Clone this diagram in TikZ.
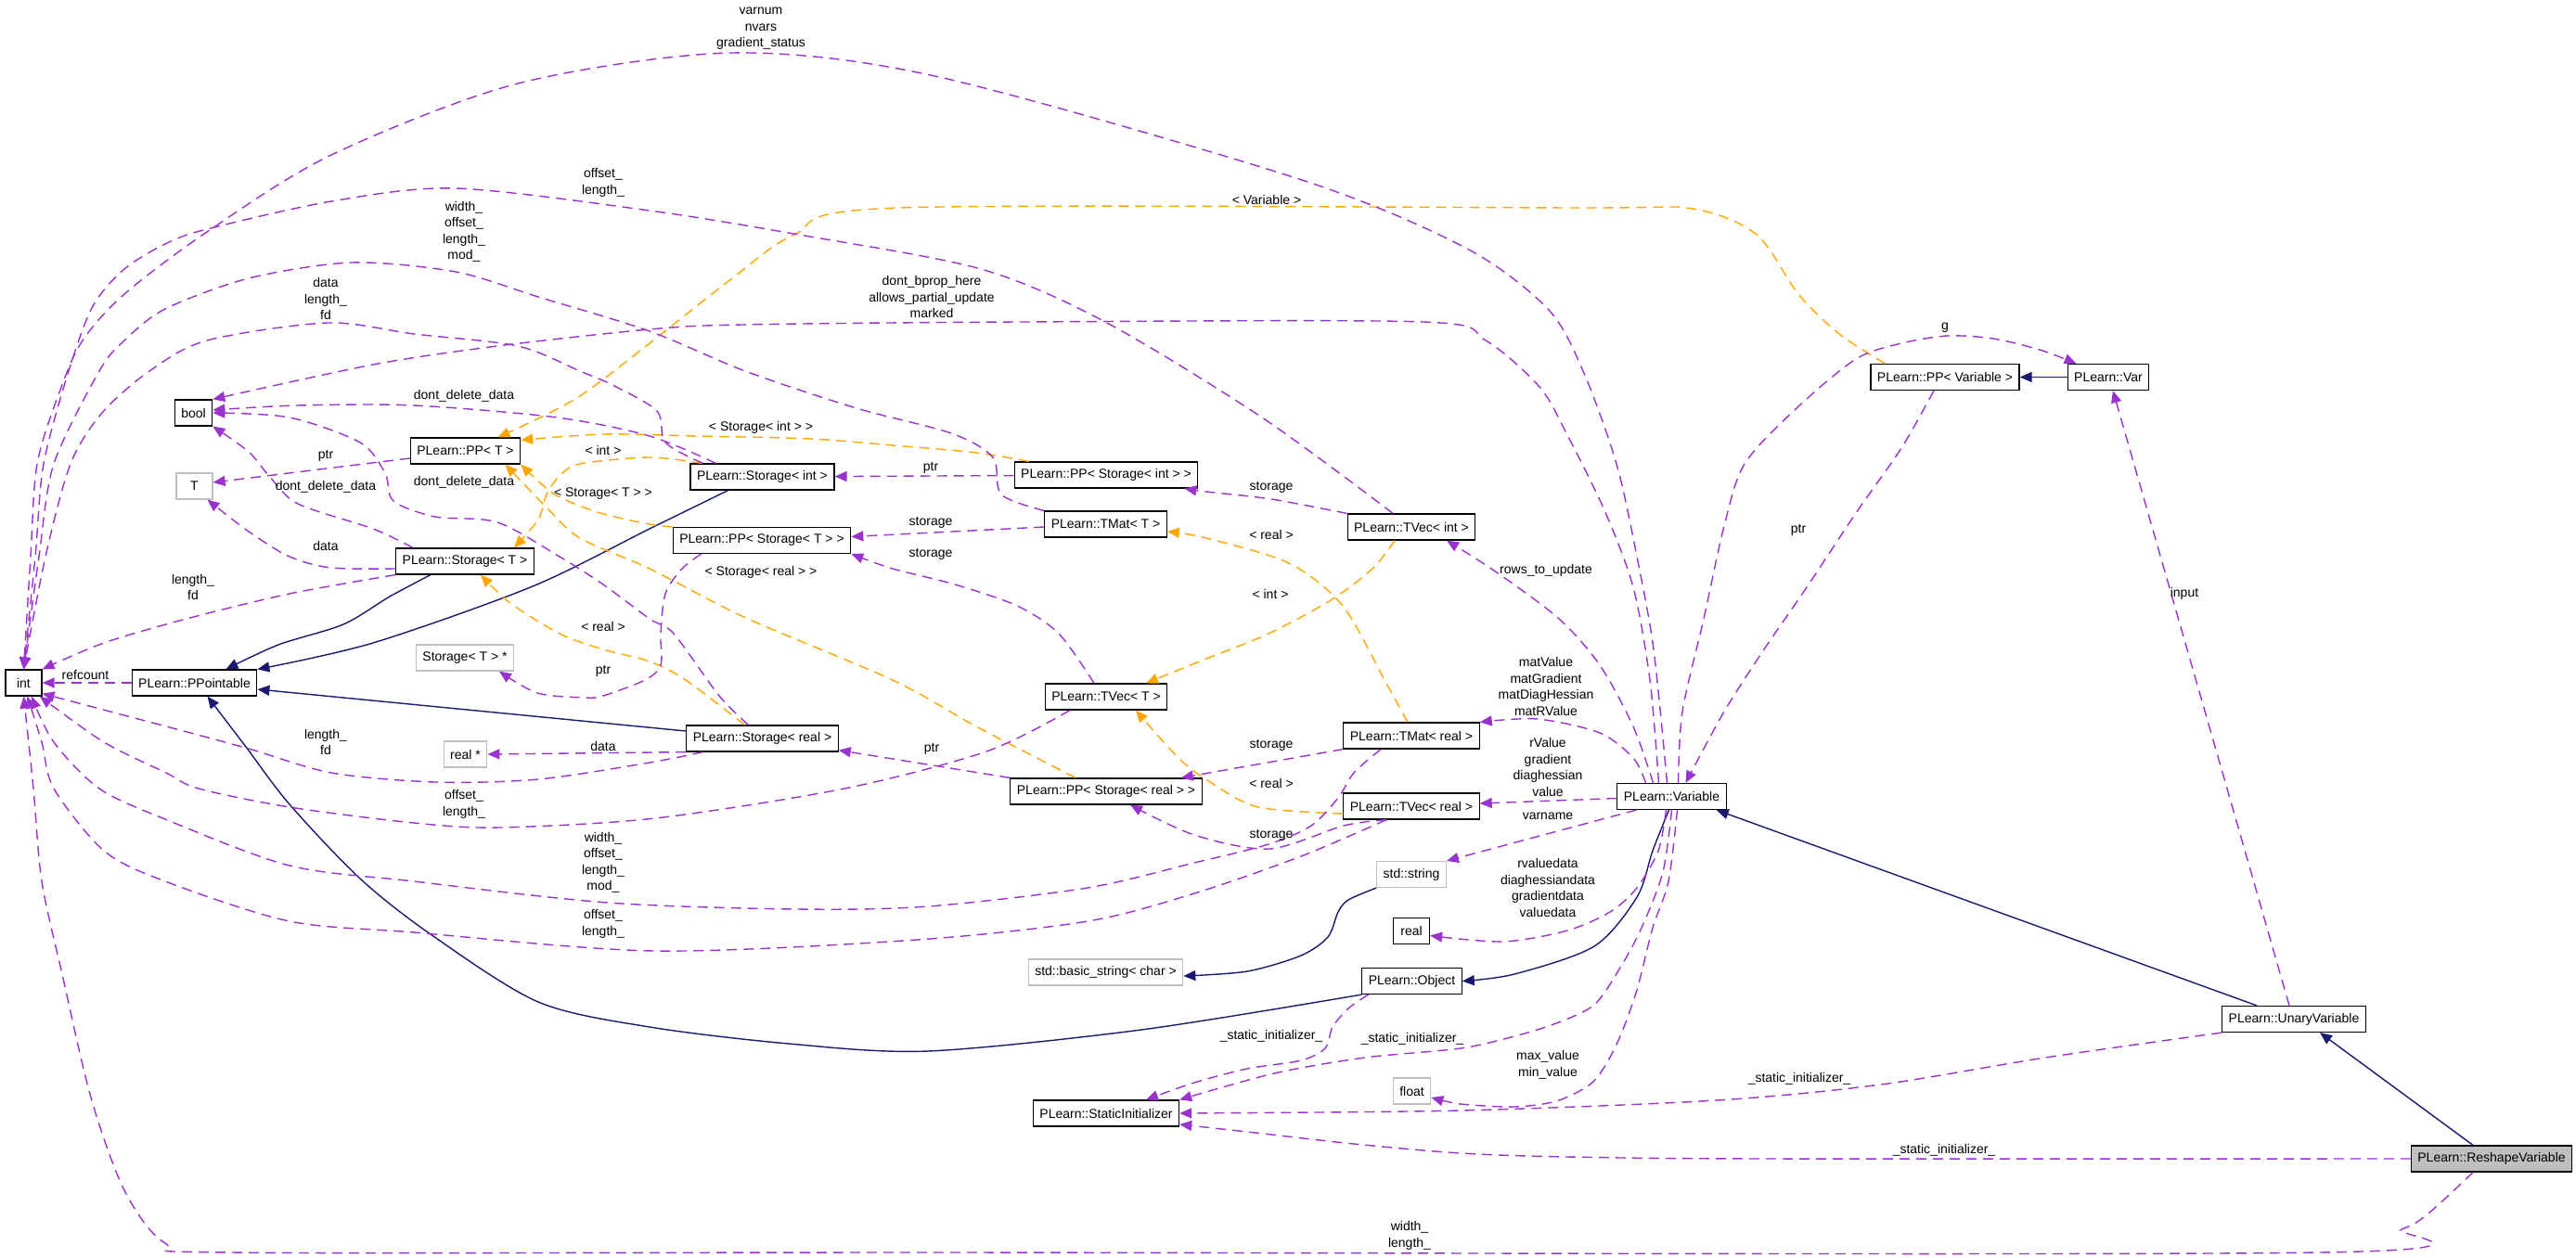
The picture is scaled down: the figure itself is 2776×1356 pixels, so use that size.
\documentclass[tikz,border=0pt]{standalone}
\usepackage{fontspec}
\setmainfont{Liberation Sans}
\usetikzlibrary{arrows.meta}
\definecolor{purp}{RGB}{154,50,205}
\definecolor{orng}{RGB}{255,165,0}
\definecolor{navy}{RGB}{25,25,112}

\begin{document}
\begin{tikzpicture}[x=1pt, y=-1pt,
  font=\fontsize{14}{17.5}\selectfont,
  cls/.style={draw=black, line width=1.2pt, fill=white, minimum height=28pt, minimum width=39pt, inner xsep=7pt},
  undoc/.style={cls, draw=gray!50},
  focus/.style={cls, fill=gray!50},
  member/.style={draw=purp, line width=1.4pt, dash pattern=on 11pt off 7pt, -{Triangle[length=13pt,width=11pt]}},
  tmpl/.style={member, draw=orng},
  inherit/.style={draw=navy, line width=1.4pt, -{Triangle[length=13pt,width=11pt]}},
  lbl/.style={align=center, inner sep=0pt}]
\useasboundingbox (0,0) rectangle (2776,1356);

% classes
\node[cls] (int) at (25.5,736) {int};
\node[cls] (bool) at (208.5,445) {bool};
\node[undoc] (T) at (209.5,524) {T};
\node[cls] (pptr) at (209.5,736) {PLearn::PPointable};
\node[cls] (ppT) at (501.5,486) {PLearn::PP< T >};
\node[cls] (storT) at (501,605) {PLearn::Storage< T >};
\node[undoc] (storTp) at (501,709) {Storage< T > *};
\node[undoc] (realp) at (501.5,813) {real *};
\node[cls] (storInt) at (821.5,514) {PLearn::Storage< int >};
\node[cls] (ppStorT) at (821,582.5) {PLearn::PP< Storage< T > >};
\node[cls] (storReal) at (821.5,796) {PLearn::Storage< real >};
\node[cls] (ppStorInt) at (1192,512) {PLearn::PP< Storage< int > >};
\node[cls] (tmatT) at (1191.5,565) {PLearn::TMat< T >};
\node[cls] (tvecT) at (1192,751) {PLearn::TVec< T >};
\node[cls] (ppStorReal) at (1192,853) {PLearn::PP< Storage< real > >};
\node[undoc] (bstr) at (1191.5,1048) {std::basic\_string< char >};
\node[cls] (sinit) at (1192,1200) {PLearn::StaticInitializer};
\node[cls] (tvecInt) at (1521,568) {PLearn::TVec< int >};
\node[cls] (tmatReal) at (1521,793) {PLearn::TMat< real >};
\node[cls] (tvecReal) at (1521,869) {PLearn::TVec< real >};
\node[undoc] (str) at (1521,942.5) {std::string};
\node[cls] (real) at (1521,1003.5) {real};
\node[cls] (obj) at (1521.5,1057.5) {PLearn::Object};
\node[undoc] (flt) at (1521.5,1176) {float};
\node[cls] (variable) at (1801.5,858.5) {PLearn::Variable};
\node[cls] (ppVar) at (2096,406.5) {PLearn::PP< Variable >};
\node[cls] (pvar) at (2272,406.5) {PLearn::Var};
\node[cls] (unary) at (2472,1098.5) {PLearn::UnaryVariable};
\node[focus] (reshape) at (2685,1249) {PLearn::ReshapeVariable};

% inheritance
\draw[inherit] plot[smooth] coordinates {([xshift=-37pt]storT.south) (420,643) (370,673) (300,695) ([xshift=34pt]pptr.north)};
\draw[inherit] plot[smooth] coordinates {([xshift=-37pt]storInt.south) (700,570) (574,632) (402,693) (pptr.north east)};
\draw[inherit] ([yshift=8pt]storReal.west) -- ([yshift=-7pt]pptr.east);
\draw[inherit] plot[smooth] coordinates {(obj.south west) (1230,1110) (1000,1133) (850,1125) (700,1107) (580,1080) (464,1007) (388,947) (312,867) (265,805) ([xshift=14pt]pptr.south)};
\draw[inherit] plot[smooth] coordinates {([xshift=-3pt]variable.south) (1781,917) (1764,967) (1718,1020) (1632,1050) (obj.east)};
\draw[inherit] plot[smooth] coordinates {(str.south west) (1453,970) (1442,983) (1431,1010) (1402,1030) (1344,1047) ([yshift=-4pt]bstr.east)};
\draw[inherit] ([xshift=-40pt]unary.north) -- ([xshift=-11pt]variable.south east);
\draw[inherit] ([xshift=-20pt]reshape.north) -- ([xshift=28pt]unary.south);
\draw[inherit] (pvar) -- (ppVar);

% template instances
\draw[tmpl] plot[smooth] coordinates {([xshift=16pt]ppVar.north west) (1982,360) (1938,317) (1893,253) (1824,225) (1700,224) (968,224) (856,253) (789,300) (700,370) (620,430) ([xshift=35pt]ppT.north)};
\draw[tmpl] plot[smooth] coordinates {([xshift=16pt]ppStorInt.north west) (1052,488) (962,480) (873,473) (750,470) (650,468) ([yshift=-3pt]ppT.north east)};
\draw[tmpl] plot[smooth] coordinates {([xshift=13pt]storInt.north west) (700,493) (625,500) (603,513) (589,533) (580,560) ([xshift=53pt]storT.north)};
\draw[tmpl] plot[smooth] coordinates {(ppStorT.north west) (700,565) (647,553) (598,533) (ppT.south east)};
\draw[tmpl] plot[smooth] coordinates {([xshift=-33pt]ppStorReal.north) (1052,783) (962,733) (806,667) (700,613) (625,580) (589,547) ([xshift=43pt]ppT.south)};
\draw[tmpl] plot[smooth] coordinates {([xshift=-19pt]storReal.north) (739,733) (700,713) (650,700) (603,683) (550,650) ([xshift=17pt]storT.south)};
\draw[tmpl] plot[smooth] coordinates {([xshift=-4pt]tmatReal.north) (1492,733) (1447,653) (1389,607) (1300,580) ([yshift=-8pt]tmatT.east)};
\draw[tmpl] plot[smooth] coordinates {([xshift=-18pt]tvecInt.south) (1479,613) (1434,647) (1367,683) (1300,710) ([xshift=43pt]tvecT.north)};
\draw[tmpl] plot[smooth] coordinates {([yshift=-8pt]tvecReal.west) (1356,870) (1304,843) (1270,817) ([xshift=32pt]tvecT.south)};

% members
\draw[member] (pptr) -- (int);
\draw[member] ([yshift=-8pt]ppT.west) -- ([yshift=4pt]T.east);
\draw[member] plot[smooth] coordinates {([yshift=-8pt]storT.west) (357,612) (312,600) (268,573) ([xshift=14pt]T.south)};
\draw[member] plot[smooth] coordinates {([xshift=19pt]storT.north west) (402,570) (321,543) (290,513) (268,487) (bool.south east)};
\draw[member] plot[smooth] coordinates {(storT.south west) (312,640) (201,667) (112,693) (int.north east)};
\draw[member] plot[smooth] coordinates {([xshift=-50pt]storInt.north) (700,470) (600,450) (446,437) (320,437) ([yshift=3pt]bool.east)};
\draw[member] plot[smooth] coordinates {([xshift=-15pt]storReal.north) (775,750) (726,683) (700,667) (650,630) (603,600) (536,563) (469,557) (424,540) (415,510) (388,477) (312,450) (bool.east)};
\draw[member] plot[smooth] coordinates {([xshift=-64pt]storInt.north) (717,477) (708,443) (660,415) (625,400) (558,373) (446,360) (353,348) (223,367) (161,400) (110,445) (76,500) (49,600) (int.north)};
\draw[member] (ppStorInt) -- (storInt);
\draw[member] ([yshift=-3pt]tmatT.west) -- ([yshift=4pt]ppStorT.east);
\draw[member] plot[smooth] coordinates {([xshift=-13pt]tvecT.north) (1141,683) (1096,653) (1029,630) (962,613) (ppStorT.south east)};
\draw[member] plot[smooth] coordinates {([xshift=31pt]ppStorT.south west) (735,613) (717,640) (712,683) (712,717) (695,733) (650,750) (630,752) (579,747) ([xshift=37pt]storTp.south)};
\draw[member] (storReal.south west) -- (realp.east);
\draw[member] plot[smooth] coordinates {([xshift=-64pt]storReal.south) (700,822) (580,840) (469,843) (357,833) (268,807) (179,783) ([yshift=3pt]int.south east)};
\draw[member] (ppStorReal.north west) -- ([yshift=2pt]storReal.south east);
\draw[member] plot[smooth] coordinates {(tvecInt.north west) (1370,538) (1300,530) ([xshift=-15pt]ppStorInt.south east)};
\draw[member] (tmatReal.south west) -- ([xshift=-23pt]ppStorReal.north east);
\draw[member] plot[smooth] coordinates {([xshift=-27pt]tvecReal.south) (1448,890) (1368,915) (1287,900) ([xshift=26pt]ppStorReal.south)};
\draw[member] plot[smooth] coordinates {([xshift=-39pt]tvecT.south) (1063,810) (910,850) (706,882) (538,892) (446,887) (312,870) (214,850) (179,833) (112,800) (int.-40)};
\draw[member] plot[smooth] coordinates {([xshift=-33pt]tmatReal.south) (1459,833) (1442,860) (1413,890) (1367,910) (1287,930) (1172,957) (1000,977) (859,980) (655,973) (446,950) (312,933) (178,883) (107,850) (58,800) (int.-60)};
\draw[member] plot[smooth] coordinates {([xshift=-27pt]tvecReal.south) (1402,923) (1287,963) (1172,993) (988,1013) (706,1025) (446,1005) (312,993) (178,950) (112,917) (58,850) (45,800) (int.-75)};
\draw[member] plot[smooth] coordinates {([xshift=-20pt]reshape.south) (2618,1307) (2588,1325) (2500,1350) (1000,1350) (250,1350) (178,1340) (134,1283) (98,1183) (67,1050) (45,950) (36,850) (int.south)};
\draw[member] plot[smooth] coordinates {([xshift=-5pt]variable.north) (1782,700) (1764,600) (1742,500) (1706,400) (1668,333) (1579,267) (1400,193) (1012,83) (789,57) (558,90) (357,167) (223,250) (134,317) (89,367) (65,420) (40,500) (33,600) (int.north)};
\draw[member] plot[smooth] coordinates {([xshift=-14pt]variable.north) (1778,733) (1760,633) (1729,550) (1688,467) (1659,417) (1601,367) (1534,347) (1100,347) (800,350) (700,355) (536,373) (402,393) (bool.north east)};
\draw[member] plot[smooth] coordinates {([xshift=-20pt]variable.north) (1760,783) (1724,717) (1680,667) (1613,617) ([xshift=38pt]tvecInt.south)};
\draw[member] plot[smooth] coordinates {([xshift=-28pt]variable.north) (1760,817) (1724,790) (1657,775) (tmatReal.north east)};
\draw[member] ([yshift=-2pt]variable.west) -- ([yshift=3pt]tvecReal.east);
\draw[member] ([xshift=-38pt]variable.south) -- (str.north east);
\draw[member] plot[smooth] coordinates {([xshift=-6pt]variable.south) (1787,917) (1764,957) (1735,983) (1689,1003) (1620,1015) ([yshift=-5pt]real.east)};
\draw[member] plot[smooth] coordinates {(variable.south) (1792,940) (1769,1000) (1746,1043) (1718,1083) (1677,1103) (1632,1117) (1574,1130) (1471,1140) (1373,1157) (sinit.north east)};
\draw[member] plot[smooth] coordinates {([xshift=6pt]variable.south) (1798,950) (1781,1000) (1764,1067) (1746,1117) (1729,1150) (1712,1170) (1677,1187) (1632,1193) (1574,1190) ([yshift=-7pt]flt.east)};
\draw[member] plot[smooth] coordinates {([xshift=-47pt]obj.south) (1453,1087) (1436,1107) (1428,1130) (1402,1143) (1344,1152) (1287,1167) ([xshift=43pt]sinit.north)};
\draw[member] plot[smooth] coordinates {(unary.south west) (2204,1140) (2027,1169) (1850,1186) (1574,1197) (sinit.east)};
\draw[member] plot[smooth] coordinates {(reshape.west) (1900,1249) (1689,1247) (1574,1243) (1459,1233) (1344,1220) ([yshift=-12pt]sinit.east)};
\draw[member] ([xshift=-5pt]unary.north) -- ([xshift=5pt]pvar.south);
\draw[member] plot[smooth] coordinates {([xshift=-12pt]ppVar.south) (2049,483) (2000,553) (1947,633) (1901,700) (1858,767) ([xshift=15pt]variable.north)};
\draw[member] plot[smooth] coordinates {([xshift=7pt]variable.north) (1813,767) (1836,667) (1858,567) (1880,500) (1936,440) (2000,387) (2049,370) (2099,362) (2148,365) (2198,377) ([xshift=10pt]pvar.north west)};
\draw[member] plot[smooth] coordinates {([xshift=-20pt]tvecInt.north) (1360,450) (1191,347) (1057,290) (861,253) (700,227) (491,203) (357,217) (223,247) (178,263) (134,290) (100,330) (74,400) (47,500) (38,600) (int.north)};
\draw[member] plot[smooth] coordinates {(tmatT.north west) (1079,533) (1070,493) (1025,467) (923,440) (803,400) (700,357) (580,320) (491,293) (379,283) (268,300) (178,333) (134,367) (107,400) (58,500) (42,600) (int.north)};

% edge labels
\node[lbl] (lRefcount) at (92,727) {refcount};
\node[lbl] (lPtrT) at (351,491) {ptr};
\node[lbl] (lDddT) at (351,525) {dont\_delete\_data};
\node[lbl] (lDataT) at (351,588) {data};
\node[lbl] (lLenFdT) at (208,633) {length\_\\fd};
\node[lbl] (lDddInt) at (500,427) {dont\_delete\_data};
\node[lbl] (lDddReal) at (500,520) {dont\_delete\_data};
\node[lbl] (lIntS) at (650,485) {< int >};
\node[lbl] (lStorT) at (650,532) {< Storage< T > >};
\node[lbl] (lRealS) at (650,675) {< real >};
\node[lbl] (lPtrS) at (650,723) {ptr};
\node[lbl] (lDataR) at (650,804) {data};
\node[lbl] (lLenFdR) at (351,800) {length\_\\fd};
\node[lbl] (lOffT) at (500,867) {offset\_\\length\_};
\node[lbl] (lWomR) at (650,930) {width\_\\offset\_\\length\_\\mod\_};
\node[lbl] (lOffR) at (650,996) {offset\_\\length\_};
\node[lbl] (lStorInt) at (820,461) {< Storage< int > >};
\node[lbl] (lStorReal) at (820,617) {< Storage< real > >};
\node[lbl] (lPtrInt) at (1003,504) {ptr};
\node[lbl] (lStoTm) at (1003,563) {storage};
\node[lbl] (lStoTv) at (1003,597) {storage};
\node[lbl] (lPtrR) at (1004,807) {ptr};
\node[lbl] (lStoVi) at (1370,525) {storage};
\node[lbl] (lRealTm) at (1370,576) {< real >};
\node[lbl] (lIntTv) at (1369,640) {< int >};
\node[lbl] (lStoMr) at (1370,803) {storage};
\node[lbl] (lRealTv) at (1370,844) {< real >};
\node[lbl] (lStoVr) at (1370,900) {storage};
\node[lbl] (lSiObj) at (1370,1117) {\_static\_initializer\_};
\node[lbl] (lRows) at (1666,615) {rows\_to\_update};
\node[lbl] (lMat) at (1666,740) {matValue\\matGradient\\matDiagHessian\\matRValue};
\node[lbl] (lVec) at (1668,827) {rValue\\gradient\\diaghessian\\value};
\node[lbl] (lName) at (1668,880) {varname};
\node[lbl] (lData) at (1668,957) {rvaluedata\\diaghessiandata\\gradientdata\\valuedata};
\node[lbl] (lSiVar) at (1522,1120) {\_static\_initializer\_};
\node[lbl] (lMinMax) at (1668,1148) {max\_value\\min\_value};
\node[lbl] (lWidLen) at (1519,1332) {width\_\\length\_};
\node[lbl] (lSiUn) at (1939,1163) {\_static\_initializer\_};
\node[lbl] (lSiRe) at (2095,1240) {\_static\_initializer\_};
\node[lbl] (lPtrV) at (1938,571) {ptr};
\node[lbl] (lInput) at (2354,640) {input};
\node[lbl] (lG) at (2096,353) {g};
\node[lbl] (lVariable) at (1365,215) {< Variable >};
\node[lbl] (lVarnum) at (820,31) {varnum\\nvars\\gradient\_status};
\node[lbl] (lOffInt) at (650,197) {offset\_\\length\_};
\node[lbl] (lWomT) at (500,250) {width\_\\offset\_\\length\_\\mod\_};
\node[lbl] (lDataInt) at (351,322) {data\\length\_\\fd};
\node[lbl] (lBprop) at (1004,320) {dont\_bprop\_here\\allows\_partial\_update\\marked};
\end{tikzpicture}
\end{document}
